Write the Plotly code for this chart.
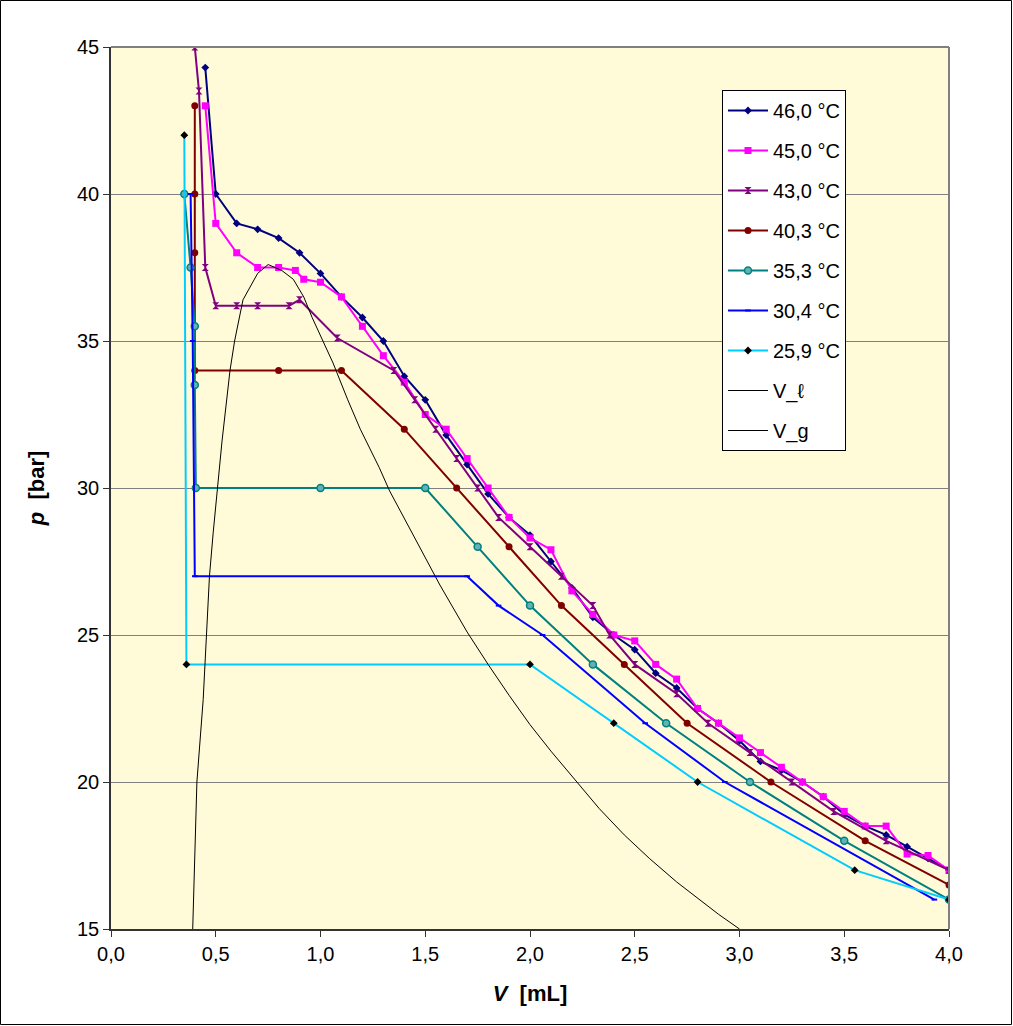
import plotly.graph_objects as go

# ---------------- data ----------------
v46 = [0.45, 0.5, 0.6, 0.7, 0.8, 0.9, 1.0, 1.1, 1.2, 1.3, 1.4, 1.5, 1.6, 1.7, 1.8, 1.9, 2.0, 2.1, 2.2, 2.3,
       2.4, 2.5, 2.6, 2.7, 2.8, 2.9, 3.0, 3.1, 3.2, 3.3, 3.4, 3.5, 3.6, 3.7, 3.8, 3.9, 4.0]
p46 = [44.3, 40.0, 39.0, 38.8, 38.5, 38.0, 37.3, 36.5, 35.8, 35.0, 33.8, 33.0, 31.8, 30.8, 29.8, 29.0, 28.4, 27.5, 26.6, 25.6,
       25.0, 24.5, 23.7, 23.2, 22.5, 22.0, 21.4, 20.7, 20.4, 20.0, 19.5, 18.9, 18.5, 18.2, 17.8, 17.4, 17.0]

v45 = [0.45, 0.5, 0.6, 0.7, 0.8, 0.88, 0.92, 1.0, 1.1, 1.2, 1.3, 1.4, 1.5, 1.6, 1.7, 1.8, 1.9, 2.0, 2.1, 2.2,
       2.3, 2.4, 2.5, 2.6, 2.7, 2.8, 2.9, 3.0, 3.1, 3.2, 3.3, 3.4, 3.5, 3.6, 3.7, 3.8, 3.9, 4.0]
p45 = [43.0, 39.0, 38.0, 37.5, 37.5, 37.4, 37.1, 37.0, 36.5, 35.5, 34.5, 33.6, 32.5, 32.0, 31.0, 30.0, 29.0, 28.3, 27.9, 26.5,
       25.7, 25.0, 24.8, 24.0, 23.5, 22.5, 22.0, 21.5, 21.0, 20.5, 20.0, 19.5, 19.0, 18.5, 18.5, 17.55, 17.5, 17.0]

v43 = [0.40, 0.42, 0.45, 0.5, 0.6, 0.7, 0.85, 0.9, 1.08, 1.35, 1.45, 1.55, 1.65, 1.75, 1.85, 2.0, 2.15, 2.3,
       2.38, 2.5, 2.7, 2.85, 3.05, 3.25, 3.45, 3.7, 4.0]
p43 = [45.0, 43.5, 37.5, 36.2, 36.2, 36.2, 36.2, 36.4, 35.1, 34.0, 33.0, 32.0, 31.0, 30.0, 29.0, 28.0, 27.0, 26.0,
       25.0, 24.0, 23.0, 22.0, 21.0, 20.0, 19.0, 18.0, 17.0]

v40 = [0.40, 0.40, 0.40, 0.40, 0.8, 1.1, 1.4, 1.65, 1.9, 2.15, 2.45, 2.75, 3.15, 3.6, 4.0]
p40 = [43.0, 40.0, 38.0, 34.0, 34.0, 34.0, 32.0, 30.0, 28.0, 26.0, 24.0, 22.0, 20.0, 18.0, 16.5]

v35 = [0.35, 0.38, 0.40, 0.40, 0.405, 1.0, 1.5, 1.75, 2.0, 2.3, 2.65, 3.05, 3.5, 4.0]
p35 = [40.0, 37.5, 35.5, 33.5, 30.0, 30.0, 30.0, 28.0, 26.0, 24.0, 22.0, 20.0, 18.0, 16.0]

v30 = [0.38, 0.39, 0.40, 1.70, 1.85, 2.06, 2.55, 2.93, 3.93]
p30 = [40.0, 35.0, 27.0, 27.0, 26.0, 25.0, 22.0, 20.0, 16.0]

v26 = [0.35, 0.36, 2.0, 2.4, 2.8, 3.55, 4.0]
p26 = [42.0, 24.0, 24.0, 22.0, 20.0, 17.0, 16.0]

v_liq = [0.39, 0.40, 0.41, 0.44, 0.457, 0.47, 0.488, 0.507, 0.53, 0.568, 0.59, 0.63, 0.70, 0.75]
p_liq = [15.0, 17.5, 20.0, 22.8, 25.1, 27.0, 28.5, 30.0, 31.6, 34.0, 35.0, 36.4, 37.3, 37.6]

v_gas = [0.75, 0.815, 0.87, 0.92, 0.96, 1.01, 1.06, 1.13, 1.19, 1.28, 1.33, 1.45, 1.57, 1.70, 1.80, 1.90,
         2.00, 2.10, 2.20, 2.33, 2.45, 2.57, 2.70, 2.81, 2.90, 3.0]
p_gas = [37.6, 37.4, 37.1, 36.5, 35.8, 35.0, 34.25, 33.0, 32.0, 30.7, 29.9, 28.3, 26.7, 25.1, 24.0, 22.95,
         21.95, 21.05, 20.2, 19.1, 18.2, 17.4, 16.6, 16.0, 15.5, 15.0]

x_ticks = [0.0, 0.5, 1.0, 1.5, 2.0, 2.5, 3.0, 3.5, 4.0]
x_tick_text = ["0,0", "0,5", "1,0", "1,5", "2,0", "2,5", "3,0", "3,5", "4,0"]
y_ticks = [15, 20, 25, 30, 35, 40, 45]

# ---------------- figure ----------------
series = [
    ("46,0 °C", v46, p46, "#000080", dict(symbol="diamond", size=6, color="#000080")),
    ("45,0 °C", v45, p45, "#FF00FF", dict(symbol="square", size=7, color="#FF00FF")),
    ("43,0 °C", v43, p43, "#800080", dict(symbol="hourglass", size=7, color="#800080")),
    ("40,3 °C", v40, p40, "#800000", dict(symbol="circle", size=7, color="#800000")),
    ("35,3 °C", v35, p35, "#008080", dict(symbol="circle", size=7, color="#5FB3B3",
                                          line=dict(color="#008080", width=1.5))),
    ("30,4 °C", v30, p30, "#0000FF", dict(symbol="line-ew-open", size=4, color="#0000FF",
                                          line=dict(color="#0000FF", width=2))),
    ("25,9 °C", v26, p26, "#00CCFF", dict(symbol="diamond", size=6, color="#000000")),
]

fig = go.Figure()
for i, (name, xs, ys, col, mk) in enumerate(series):
    fig.add_trace(go.Scatter(x=xs, y=ys, mode="lines+markers", name=name,
                             line=dict(color=col, width=2), marker=mk,
                             legendgroup=str(i)))
fig.add_trace(go.Scatter(x=v_liq, y=p_liq, mode="lines", name="V_ℓ",
                         line=dict(color="black", width=1), legendgroup="7"))
fig.add_trace(go.Scatter(x=v_gas, y=p_gas, mode="lines", name="V_g",
                         line=dict(color="black", width=1), legendgroup="8"))

L, R, T, B = 111, 64, 47, 97
W, H = 1013, 1026
pw, ph = W - L - R, H - T - B

fig.update_layout(
    width=W, height=H,
    margin=dict(l=L, r=R, t=T, b=B),
    paper_bgcolor="white",
    plot_bgcolor="#FFFBD8",
    font=dict(family="Liberation Sans, Arial, sans-serif", color="black", size=17),
    showlegend=True,
    legend=dict(
        x=(722 - L) / pw, y=(H - B - 90) / ph, xanchor="left", yanchor="top",
        bgcolor="white", bordercolor="black", borderwidth=1,
        font=dict(family="Liberation Sans, Arial, sans-serif", size=20, color="black"),
        traceorder="grouped", tracegroupgap=11,
        itemwidth=40,
    ),
    xaxis=dict(
        range=[0, 4], tickvals=x_ticks, ticktext=x_tick_text,
        showgrid=False, zeroline=False,
        showline=True, linecolor="#333333", linewidth=1.5,
        ticks="outside", ticklen=6, tickcolor="#333333",
        tickfont=dict(family="Liberation Sans Narrow, Liberation Sans, Arial", size=20),
        title=dict(text="<b><i>V</i>  [mL]</b>", standoff=22,
                   font=dict(family="Liberation Sans Narrow, Liberation Sans, Arial", size=22)),
    ),
    yaxis=dict(
        range=[15, 45], tickvals=y_ticks,
        showgrid=True, gridcolor="#808080", gridwidth=1, zeroline=False,
        showline=True, linecolor="#333333", linewidth=1.5,
        ticks="outside", ticklen=6, tickcolor="#333333",
        tickfont=dict(family="Liberation Sans, Arial", size=20),
        title=dict(text="<b><i>p</i>  [bar]</b>", standoff=26,
                   font=dict(family="Liberation Sans Narrow, Liberation Sans, Arial", size=22)),
    ),
    shapes=[
        dict(type="line", xref="paper", yref="paper", x0=1, x1=1, y0=0, y1=1,
             line=dict(color="#808080", width=2)),
        dict(type="line", xref="paper", yref="paper", x0=0, x1=1, y0=1, y1=1,
             line=dict(color="#808080", width=2)),
        dict(type="rect", xref="paper", yref="paper",
             x0=(0.5 - L) / pw, x1=(W - 1.5 - L) / pw,
             y0=(H - B - (H - 1.5)) / ph, y1=(H - B - 0.5) / ph,
             line=dict(color="black", width=1), fillcolor="rgba(0,0,0,0)", layer="below"),
    ],
)

fig.write_html("out.html")
